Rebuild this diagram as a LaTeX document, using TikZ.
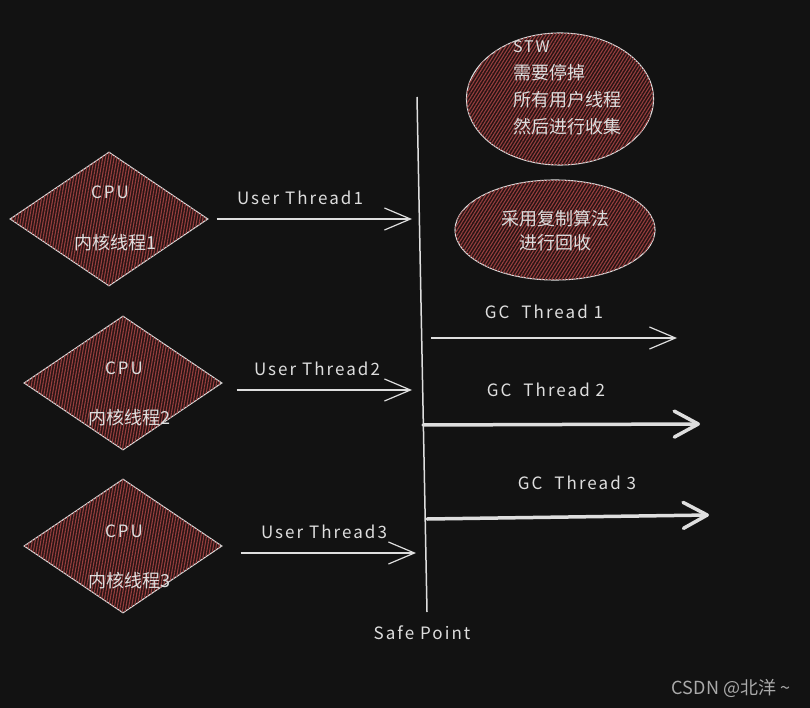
\documentclass[tikz,border=0pt]{standalone}
\usepackage{fontspec}
\setmainfont{Noto Sans CJK SC}
\newfontfamily\handfont[LetterSpace=12]{Noto Sans CJK SC}
\usetikzlibrary{arrows.meta,shapes.geometric,patterns.meta}
\definecolor{bg}{RGB}{18,18,18}
\definecolor{chalk}{RGB}{222,222,222}
\definecolor{brick}{RGB}{150,62,62}
\definecolor{brickdk}{RGB}{40,20,20}
\definecolor{wmark}{RGB}{170,170,170}
\tikzset{
  hatch/.style={fill=brickdk,postaction={pattern={Lines[angle=#1,distance=2.8pt,line width=1.1pt]},pattern color=brick}},
  % shapes
  cpu/.style={diamond,draw=chalk,line width=1.1pt,hatch=80,minimum width=198pt,minimum height=134pt,
    inner sep=0pt},
  note/.style={ellipse,draw=chalk,line width=1.1pt,hatch=58,inner sep=0pt},
  % texts
  lbl/.style={text=chalk,font=\handfont\fontsize{17}{19}\selectfont,inner sep=0pt},
  cjk/.style={text=chalk,font=\fontsize{18}{27}\selectfont,inner sep=0pt,align=left},
  % arrows
  flow/.style={-{Straight Barb[length=26pt,width=22pt]},line width=1.2pt,draw=chalk},
  bigflow/.style={-{Straight Barb[length=24pt,width=26pt,round]},line width=3.5pt,draw=chalk,line cap=round},
}
\begin{document}
\begin{tikzpicture}[x=1pt,y=-1pt]
    \fill[bg] (0,0) rectangle (810,708);
    % cpu cores
    \foreach \i/\x/\y/\u/\v in {1/109/219/192/243,2/123/383/368/418,3/123/546/531/581} {
      \node[cpu] (cpu\i) at (\x,\y) {};
      \node[lbl] (cpuhd\i) at (\x+1,\u) {CPU};
      \node[cjk] (cpusub\i) at (\x+6,\v) {内核线程\i};
    }
    % safe point
    \coordinate (sptop) at (417,97);
    \coordinate (spbot) at (427,612);
    \draw[chalk,line width=1.5pt] (sptop) -- (spbot);
    \node[lbl] (sp) at (422,633) {Safe Point};
    % user threads
    \foreach \i/\s/\y/\e/\l in {1/8/219/412/300,2/14/390/412/317,3/18/553/416/324} {
      \coordinate (ut\i) at (\e,\y);
      \draw[flow] ([xshift=\s pt]cpu\i.east |- ut\i) -- (ut\i);
      \node[lbl] (utl\i) at (\l,\y-21) {User Thread\i};
    }
    % notes
    \node[note,minimum width=187pt,minimum height=132pt] (stw) at (560,99) {};
    \node[cjk] (stwtx) at (567,88) {{\handfont\fontsize{16}{17}\selectfont STW}\\需要停掉\\所有用户线程\\然后进行收集};
    \node[note,minimum width=200pt,minimum height=100pt] (copy) at (555,230) {};
    \node[cjk,align=center,font=\fontsize{18}{24}\selectfont] (copytx) at (555,231) {采用复制算法\\进行回收};
    % gc threads
    \coordinate (gc1) at (677,338);
    \coordinate (gc2) at (700,424);
    \coordinate (gc3) at (709,515);
    \draw[flow] (431,338) -- (gc1);
    \draw[bigflow] (423,425) -- (gc2);
    \draw[bigflow] (427,519) -- (gc3);
    \node[lbl] (gcl1) at (544,312) {GC\hspace{12pt}Thread 1};
    \node[lbl] (gcl2) at (546,390) {GC\hspace{12pt}Thread 2};
    \node[lbl] (gcl3) at (577,483) {GC\hspace{12pt}Thread 3};
    \node[text=wmark,font=\fontsize{18}{20}\selectfont,inner sep=0pt] (csdn) at (731,688) {CSDN @北洋 \textasciitilde};
\end{tikzpicture}
\end{document}
